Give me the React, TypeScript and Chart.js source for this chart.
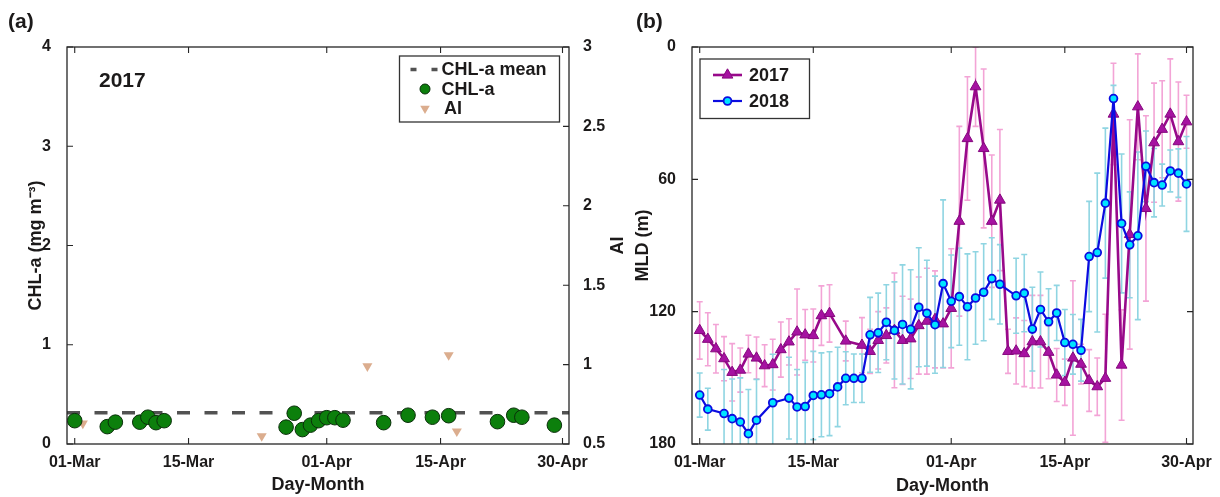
import React, { useEffect, useRef } from 'react';
import { Chart, registerables } from 'chart.js';

Chart.register(...registerables);

const FONT = '"Liberation Sans", Arial, Helvetica, sans-serif';
Chart.defaults.font.family = FONT;
Chart.defaults.color = '#111';

// ---------- shared x axis (day index, 0 = 01-Mar) ----------
const X_TICK_DAYS = [0, 14, 31, 45, 60];
const X_TICK_LABELS = ['01-Mar', '15-Mar', '01-Apr', '15-Apr', '30-Apr'];
const X_MIN = -0.95;
const X_MAX = 60.8;

// ---------- panel (a) ----------
const CHL_DAYS = [0, 4, 5, 8, 9, 10, 11, 26, 27, 28, 29, 30, 31, 32, 33, 38, 41, 44, 46, 52, 54, 55, 59];
const CHL_VALUES = [0.235, 0.175, 0.22, 0.22, 0.27, 0.215, 0.235, 0.17, 0.31, 0.145, 0.19, 0.235, 0.265, 0.265, 0.24, 0.215, 0.29, 0.27, 0.285, 0.225, 0.29, 0.27, 0.19];
const CHL_MEAN = 0.315;
const AI_DAYS = [1, 23, 36, 46, 47];
const AI_VALUES = [0.63, 0.55, 0.99, 1.06, 0.58];
const CHL_TICKS = [0, 1, 2, 3, 4];
const AI_TICKS = [0.5, 1, 1.5, 2, 2.5, 3];

// ---------- panel (b) ----------
const MLD_DAYS_2017 = [0, 1, 2, 3, 4, 5, 6, 7, 8, 9, 10, 11, 12, 13, 14, 15, 16, 18, 20, 21, 22, 23, 24, 25, 26, 27, 28, 29, 30, 31, 32, 33, 34, 35, 36, 37, 38, 39, 40, 41, 42, 43, 44, 45, 46, 47, 48, 49, 50, 51, 52, 53, 54, 55, 56, 57, 58, 59, 60];
const MLD_2017 = [128.5, 132.5, 136.8, 141.3, 147.5, 146.5, 139.2, 141, 144.5, 144, 137.2, 133.7, 129.2, 130.5, 130.8, 121.8, 120.8, 133.3, 135.2, 138, 133, 130.8, 128.5, 133, 132.3, 126.3, 124.3, 123.5, 125.5, 118.5, 79, 41.5, 18, 46, 79, 69.4, 138, 137.8, 139, 133.6, 133.6, 138.4, 148.7, 152, 141, 143.8, 151.2, 154, 150.2, 30.4, 144.2, 85, 27.1, 73.2, 43.4, 37.3, 30.4, 42.9, 33.9];
const ERR_2017 = [13, 12, 11, 10, 13, 10, 8.5, 9.5, 9.5, 11.5, 12.5, 10.5, 19.5, 11.5, 12, 13.5, 13, 9, 12.5, 10, 13, 12.5, 26, 20, 18, 22, 24, 22, 20, 27, 43, 28, 18, 36, 30, 32, 10, 15, 15, 21, 21, 12, 12, 10.5, 35, 9, 14, 13, 29, 23, 25, 52, 24, 42, 27, 22, 25, 27, 12];

const MLD_DAYS_2018 = [0, 1, 3, 4, 5, 6, 7, 9, 11, 12, 13, 14, 15, 16, 17, 18, 19, 20, 21, 22, 23, 24, 25, 26, 27, 28, 29, 30, 31, 32, 33, 34, 35, 36, 37, 39, 40, 41, 42, 43, 44, 45, 46, 47, 48, 49, 50, 51, 52, 53, 54, 55, 56, 57, 58, 59, 60];
const MLD_2018 = [157.8, 164.2, 166.2, 168.5, 170, 175.3, 169.2, 161.3, 159.2, 163.2, 163, 158, 157.7, 157.2, 154.1, 150.2, 150.2, 150.2, 130.5, 129.6, 124.8, 128.5, 125.8, 128, 118, 120.7, 125.9, 107.3, 115.3, 113.2, 117.8, 113.8, 111.2, 105, 107.6, 112.8, 111.6, 127.9, 119, 124.6, 120.6, 134, 134.8, 137.5, 95, 93.2, 70.8, 23.4, 80, 89.7, 85.6, 54.1, 61.5, 62.6, 56.2, 57.2, 62.1];
const ERR_2018 = [10, 9.5, 20, 18, 20, 20, 18.5, 22, 18.5, 17, 20, 20, 19, 19, 18, 12, 11, 11, 17, 18, 17, 22, 27, 27, 27, 24, 22, 38, 21, 22, 24, 21, 22, 18.5, 18, 17, 17.5, 19, 17, 15, 12.5, 15, 13.5, 14, 25, 36, 34, 6, 31.5, 24, 38, 16, 15.5, 9.5, 9.5, 11, 21.5];
const MLD_TICKS = [0, 60, 120, 180];

// ---------- styles ----------
const TICK_FONT = { family: FONT, size: 16, weight: 'bold' as const };
const TITLE_FONT = { family: FONT, size: 18, weight: 'bold' as const };
const TEXT_COLOR = '#1c1a1a';

const toPoints = (xs: number[], ys: number[]) => xs.map((x, i) => ({ x, y: ys[i] }));
const xLabel = (v: number) => {
  const i = X_TICK_DAYS.indexOf(Number(v));
  return i >= 0 ? X_TICK_LABELS[i] : '';
};

function drawMarker(ctx: CanvasRenderingContext2D, kind: string, x: number, y: number, r: number, fill: string, stroke?: string, lw?: number) {
  ctx.beginPath();
  if (kind === 'circle') {
    ctx.arc(x, y, r, 0, Math.PI * 2);
  } else {
    const dir = kind === 'triangle' ? -1 : 1;
    for (let k = 0; k < 3; k++) {
      const a = (k * 2 * Math.PI) / 3;
      const px = x + Math.sin(a) * r;
      const py = y + dir * Math.cos(a) * r;
      if (k === 0) ctx.moveTo(px, py);
      else ctx.lineTo(px, py);
    }
    ctx.closePath();
  }
  ctx.fillStyle = fill;
  ctx.fill();
  if (stroke && lw) {
    ctx.strokeStyle = stroke;
    ctx.lineWidth = lw;
    ctx.stroke();
  }
}

// error bars drawn through the chart's own scales
const errorBarPlugin = {
  id: 'errorBars',
  beforeDatasetsDraw(chart: any) {
    const { ctx, chartArea } = chart;
    ctx.save();
    ctx.beginPath();
    ctx.rect(chartArea.left, chartArea.top, chartArea.right - chartArea.left, chartArea.bottom - chartArea.top);
    ctx.clip();
    const list = chart.data.datasets
      .map((ds: any, i: number) => ({ ds, i }))
      .filter((o: any) => o.ds.errorBars)
      .sort((a: any, b: any) => a.ds.errorBars.z - b.ds.errorBars.z);
    for (const { ds, i } of list) {
      const meta = chart.getDatasetMeta(i);
      const xs = chart.scales[meta.xAxisID];
      const ys = chart.scales[meta.yAxisID];
      const eb = ds.errorBars;
      ctx.strokeStyle = eb.color;
      ctx.lineWidth = eb.width;
      ctx.beginPath();
      ds.data.forEach((p: any, j: number) => {
        const e = eb.values[j];
        const px = xs.getPixelForValue(p.x);
        const y1 = ys.getPixelForValue(p.y - e);
        const y2 = ys.getPixelForValue(p.y + e);
        ctx.moveTo(px, y1);
        ctx.lineTo(px, y2);
        ctx.moveTo(px - eb.cap, y1);
        ctx.lineTo(px + eb.cap, y1);
        ctx.moveTo(px - eb.cap, y2);
        ctx.lineTo(px + eb.cap, y2);
      });
      ctx.stroke();
    }
    ctx.restore();
  },
};

// box frame + inward (MATLAB style) ticks
const framePlugin = {
  id: 'frame',
  afterDraw(chart: any, _a: any, opts: any) {
    const { ctx, chartArea } = chart;
    const { left, right, top, bottom } = chartArea;
    const L = 6;
    ctx.save();
    ctx.strokeStyle = '#262626';
    ctx.lineWidth = 1.3;
    ctx.strokeRect(left, top, right - left, bottom - top);
    ctx.lineWidth = 1.1;
    ctx.beginPath();
    const xs = chart.scales.x;
    for (const d of opts.xTicks || []) {
      const px = xs.getPixelForValue(d);
      ctx.moveTo(px, bottom);
      ctx.lineTo(px, bottom - L);
      ctx.moveTo(px, top);
      ctx.lineTo(px, top + L);
    }
    if (opts.left) {
      const s = chart.scales[opts.left.id];
      for (const v of opts.left.values) {
        const py = s.getPixelForValue(v);
        ctx.moveTo(left, py);
        ctx.lineTo(left + L, py);
        if (opts.left.mirror) {
          ctx.moveTo(right, py);
          ctx.lineTo(right - L, py);
        }
      }
    }
    if (opts.right) {
      const s = chart.scales[opts.right.id];
      for (const v of opts.right.values) {
        const py = s.getPixelForValue(v);
        ctx.moveTo(right, py);
        ctx.lineTo(right - L, py);
      }
    }
    ctx.stroke();
    ctx.restore();
  },
};

// boxed legend inside the plot
const boxLegendPlugin = {
  id: 'boxLegend',
  afterDraw(chart: any, _a: any, opts: any) {
    if (!opts || !opts.box) return;
    const ctx = chart.ctx;
    const [x0, y0, w, h] = opts.box;
    ctx.save();
    ctx.fillStyle = '#fff';
    ctx.fillRect(x0, y0, w, h);
    ctx.strokeStyle = '#333';
    ctx.lineWidth = 1.3;
    ctx.strokeRect(x0, y0, w, h);
    for (const it of opts.items) {
      if (it.line) {
        ctx.beginPath();
        ctx.setLineDash(it.line.dash || []);
        ctx.strokeStyle = it.line.color;
        ctx.lineWidth = it.line.width;
        ctx.moveTo(it.line.x0, it.y);
        ctx.lineTo(it.line.x1, it.y);
        ctx.stroke();
        ctx.setLineDash([]);
      }
      if (it.marker) {
        const m = it.marker;
        drawMarker(ctx, m.kind, m.x, it.y, m.r, m.fill, m.stroke, m.lw);
      }
      ctx.font = opts.font;
      ctx.fillStyle = TEXT_COLOR;
      ctx.textAlign = 'left';
      ctx.textBaseline = 'middle';
      ctx.fillText(it.text, it.textX, it.y + 1);
    }
    ctx.restore();
  },
};

// free text (panel letters, year label, right-axis title)
const annotPlugin = {
  id: 'annot',
  afterDraw(chart: any, _a: any, opts: any) {
    const ctx = chart.ctx;
    ctx.save();
    for (const t of opts.items || []) {
      ctx.save();
      ctx.font = t.font;
      ctx.fillStyle = TEXT_COLOR;
      ctx.textAlign = t.align || 'left';
      ctx.textBaseline = t.baseline || 'alphabetic';
      ctx.translate(t.x, t.y);
      if (t.rotate) ctx.rotate(t.rotate);
      ctx.fillText(t.text, 0, 0);
      ctx.restore();
    }
    ctx.restore();
  },
};

const xScale = (titlePadBottom: number) => ({
  type: 'linear' as const,
  min: X_MIN,
  max: X_MAX,
  grid: { display: false },
  border: { display: false },
  afterBuildTicks: (s: any) => {
    s.ticks = X_TICK_DAYS.map((v) => ({ value: v }));
  },
  ticks: { callback: (v: any) => xLabel(v), font: TICK_FONT, color: TEXT_COLOR, padding: 1, maxRotation: 0, autoSkip: false },
  title: { display: true, text: 'Day-Month', font: TITLE_FONT, color: TEXT_COLOR, padding: { top: 0, bottom: titlePadBottom } },
  afterFit: (s: any) => {
    s.height = 53;
  },
});

function configA(): any {
  return {
    type: 'line',
    data: {
      datasets: [
        {
          label: 'CHL-a',
          data: toPoints(CHL_DAYS, CHL_VALUES),
          showLine: false,
          pointStyle: 'circle',
          pointRadius: 7.3,
          pointBackgroundColor: '#0c7f0c',
          pointBorderColor: '#0a2e0a',
          pointBorderWidth: 1,
          yAxisID: 'y',
        },
        {
          label: 'AI',
          data: toPoints(AI_DAYS, AI_VALUES),
          showLine: false,
          pointStyle: 'triangle',
          pointRotation: 180,
          pointRadius: 5.8,
          pointBackgroundColor: '#dbad8e',
          pointBorderColor: '#dbad8e',
          pointBorderWidth: 0,
          yAxisID: 'y2',
        },
        {
          label: 'CHL-a mean',
          data: [
            { x: X_MIN, y: CHL_MEAN },
            { x: X_MAX, y: CHL_MEAN },
          ],
          borderColor: '#525252',
          borderWidth: 3.5,
          borderDash: [13, 14.5],
          pointRadius: 0,
          yAxisID: 'y',
        },
      ],
    },
    options: {
      animation: false,
      responsive: true,
      maintainAspectRatio: false,
      events: [],
      layout: { padding: { top: 47, left: 0, right: 0, bottom: 0 } },
      plugins: {
        legend: { display: false },
        tooltip: { enabled: false },
        frame: {
          xTicks: X_TICK_DAYS,
          left: { id: 'y', values: CHL_TICKS, mirror: false },
          right: { id: 'y2', values: AI_TICKS },
        },
        boxLegend: {
          box: [399.5, 56, 160, 66],
          font: `bold 18px ${FONT}`,
          items: [
            { y: 69.5, text: 'CHL-a mean', textX: 441.5, line: { x0: 410.5, x1: 438, color: '#525252', width: 3.5, dash: [6, 15] } },
            { y: 89, text: 'CHL-a', textX: 441.5, marker: { kind: 'circle', x: 425, r: 5, fill: '#0c7f0c', stroke: '#0a2e0a', lw: 1 } },
            { y: 108.5, text: 'AI', textX: 444, marker: { kind: 'triangleDown', x: 425, r: 5.5, fill: '#dbad8e' } },
          ],
        },
        annot: {
          items: [
            { text: '(a)', x: 8, y: 28, font: `bold 21px ${FONT}` },
            { text: '2017', x: 99, y: 87, font: `bold 21px ${FONT}` },
            { text: 'AI', x: 618.5, y: 245.5, font: `bold 18px ${FONT}`, align: 'center', baseline: 'middle', rotate: -Math.PI / 2 },
          ],
        },
      },
      scales: {
        x: xScale(1),
        y: {
          position: 'left',
          min: 0,
          max: 4,
          grid: { display: false },
          border: { display: false },
          afterBuildTicks: (s: any) => {
            s.ticks = CHL_TICKS.map((v) => ({ value: v }));
          },
          ticks: { font: TICK_FONT, color: TEXT_COLOR, padding: 8, callback: (v: any) => String(v) },
          title: { display: true, text: 'CHL-a (mg m⁻³)', font: TITLE_FONT, color: TEXT_COLOR, padding: { top: 25, bottom: 0 } },
          afterFit: (s: any) => {
            s.width = 67;
          },
        },
        y2: {
          position: 'right',
          min: 0.5,
          max: 3,
          grid: { display: false },
          border: { display: false },
          afterBuildTicks: (s: any) => {
            s.ticks = AI_TICKS.map((v) => ({ value: v }));
          },
          ticks: { font: TICK_FONT, color: TEXT_COLOR, padding: 6, callback: (v: any) => String(v) },
          afterFit: (s: any) => {
            s.width = 61;
          },
        },
      },
    },
    plugins: [errorBarPlugin, framePlugin, boxLegendPlugin, annotPlugin],
  };
}

function configB(): any {
  return {
    type: 'line',
    data: {
      datasets: [
        {
          label: '2018',
          data: toPoints(MLD_DAYS_2018, MLD_2018),
          borderColor: '#0c0ce0',
          borderWidth: 2.2,
          pointStyle: 'circle',
          pointRadius: 3.9,
          pointBackgroundColor: '#00e4ff',
          pointBorderColor: '#0c0ce0',
          pointBorderWidth: 1.8,
          tension: 0,
          errorBars: { values: ERR_2018, color: '#8fd5e2', width: 1.6, cap: 3, z: 2 },
        },
        {
          label: '2017',
          data: toPoints(MLD_DAYS_2017, MLD_2017),
          borderColor: '#98098a',
          borderWidth: 2.6,
          pointStyle: 'triangle',
          pointRadius: 6.2,
          pointBackgroundColor: '#a612a1',
          pointBorderColor: '#86087e',
          pointBorderWidth: 1,
          tension: 0,
          errorBars: { values: ERR_2017, color: '#f3a4d6', width: 1.6, cap: 3, z: 1 },
        },
      ],
    },
    options: {
      animation: false,
      responsive: true,
      maintainAspectRatio: false,
      events: [],
      layout: { padding: { top: 47, left: 0, right: 27, bottom: 0 } },
      plugins: {
        legend: { display: false },
        tooltip: { enabled: false },
        frame: {
          xTicks: X_TICK_DAYS,
          left: { id: 'y', values: MLD_TICKS, mirror: true },
        },
        boxLegend: {
          box: [70, 59, 109.5, 59.5],
          font: `bold 18px ${FONT}`,
          items: [
            { y: 75, text: '2017', textX: 119, line: { x0: 83, x1: 112, color: '#98098a', width: 2.6 }, marker: { kind: 'triangle', x: 97.5, r: 6.2, fill: '#a612a1', stroke: '#86087e', lw: 1 } },
            { y: 101, text: '2018', textX: 119, line: { x0: 83, x1: 112, color: '#0c0ce0', width: 2.2 }, marker: { kind: 'circle', x: 97.5, r: 3.9, fill: '#00e4ff', stroke: '#0c0ce0', lw: 1.8 } },
          ],
        },
        annot: {
          items: [{ text: '(b)', x: 6, y: 28, font: `bold 21px ${FONT}` }],
        },
      },
      scales: {
        x: xScale(0),
        y: {
          position: 'left',
          min: 0,
          max: 180,
          reverse: true,
          grid: { display: false },
          border: { display: false },
          afterBuildTicks: (s: any) => {
            s.ticks = MLD_TICKS.map((v) => ({ value: v }));
          },
          ticks: { font: TICK_FONT, color: TEXT_COLOR, padding: 8, callback: (v: any) => String(v) },
          title: { display: true, text: 'MLD (m)', font: TITLE_FONT, color: TEXT_COLOR, padding: { top: 2, bottom: 0 } },
          afterFit: (s: any) => {
            s.width = 62;
          },
        },
      },
    },
    plugins: [errorBarPlugin, framePlugin, boxLegendPlugin, annotPlugin],
  };
}

export default function App() {
  const refA = useRef<HTMLCanvasElement>(null);
  const refB = useRef<HTMLCanvasElement>(null);
  useEffect(() => {
    const a = new Chart(refA.current as HTMLCanvasElement, configA());
    const b = new Chart(refB.current as HTMLCanvasElement, configB());
    return () => {
      a.destroy();
      b.destroy();
    };
  }, []);
  return (
    <div style={{ position: 'fixed', left: 0, top: 0, width: 1220, height: 497, background: '#fff', overflow: 'hidden' }}>
      <div style={{ position: 'absolute', left: 0, top: 0, width: 630, height: 497 }}>
        <canvas ref={refA} />
      </div>
      <div style={{ position: 'absolute', left: 630, top: 0, width: 590, height: 497 }}>
        <canvas ref={refB} />
      </div>
    </div>
  );
}
